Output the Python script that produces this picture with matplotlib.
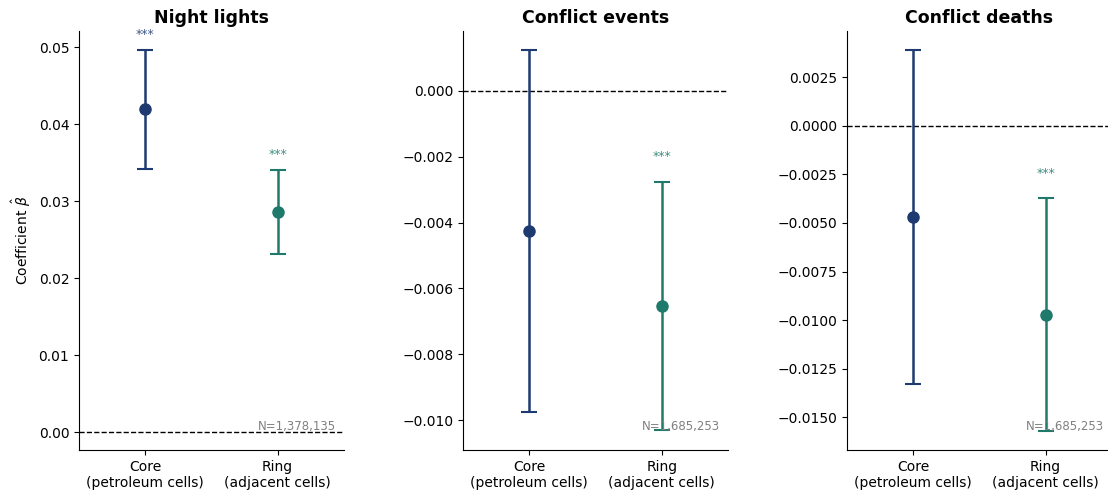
import numpy as np
import matplotlib
matplotlib.use("Agg")
import matplotlib.pyplot as plt

# coefficients (core, ring) and 95% CI bounds
titles = ["Night lights", "Conflict events", "Conflict deaths"]
groups = ["Core\n(petroleum cells)", "Ring\n(adjacent cells)"]
coef = [[0.0419, 0.0286], [-0.00425, -0.00654], [-0.00469, -0.00974]]
ci_lo = [[0.0342, 0.0231], [-0.00976, -0.0103], [-0.0133, -0.0157]]
ci_hi = [[0.0496, 0.0340], [0.00125, -0.00277], [0.00392, -0.00371]]
stars = [["***", "***"], ["", "***"], ["", "***"]]
n_obs = ["N=1,378,135", "N=1,685,253", "N=1,685,253"]
ylims = [(-0.00234, 0.0521), (-0.01091, 0.00182), (-0.0167, 0.0049)]
star_off = [6.5, 13.5, 13]  # points above the upper CI

colors = ["#1f3a70", "#1f7a6c"]

fig = plt.figure(figsize=(11.08, 4.96), dpi=100)
lefts = [0.0713, 0.418, 0.7644]
for k in range(3):
    ax = fig.add_axes([lefts[k], 0.0927, 0.239, 0.845])
    for j in range(2):
        lo = coef[k][j] - ci_lo[k][j]
        hi = ci_hi[k][j] - coef[k][j]
        ax.errorbar(j, coef[k][j], yerr=[[lo], [hi]], fmt="o", color=colors[j],
                    ms=8, lw=1.8, capsize=6, capthick=1.5, zorder=3)
        if stars[k][j]:
            ax.annotate(stars[k][j], (j, ci_hi[k][j]), xytext=(0, star_off[k]),
                        textcoords="offset points", ha="center", va="bottom",
                        fontsize=9, color=colors[j], alpha=0.85)
    ax.axhline(0, color="black", ls="--", lw=1, zorder=1)
    ax.set_xlim(-0.5, 1.5)
    ax.set_ylim(*ylims[k])
    ax.set_xticks([0, 1])
    ax.set_xticklabels(groups, fontsize=10)
    ax.tick_params(axis="y", labelsize=10)
    ax.set_title(titles[k], fontsize=12.5, fontweight="bold")
    ax.spines["top"].set_visible(False)
    ax.spines["right"].set_visible(False)
    ax.text(0.97, 0.04, n_obs[k], transform=ax.transAxes, ha="right",
            va="bottom", fontsize=8.5, color="gray")
    if k == 0:
        ax.set_ylabel(r"Coefficient $\hat{\beta}$", fontsize=10)

fig.savefig("out.png", dpi=100)
